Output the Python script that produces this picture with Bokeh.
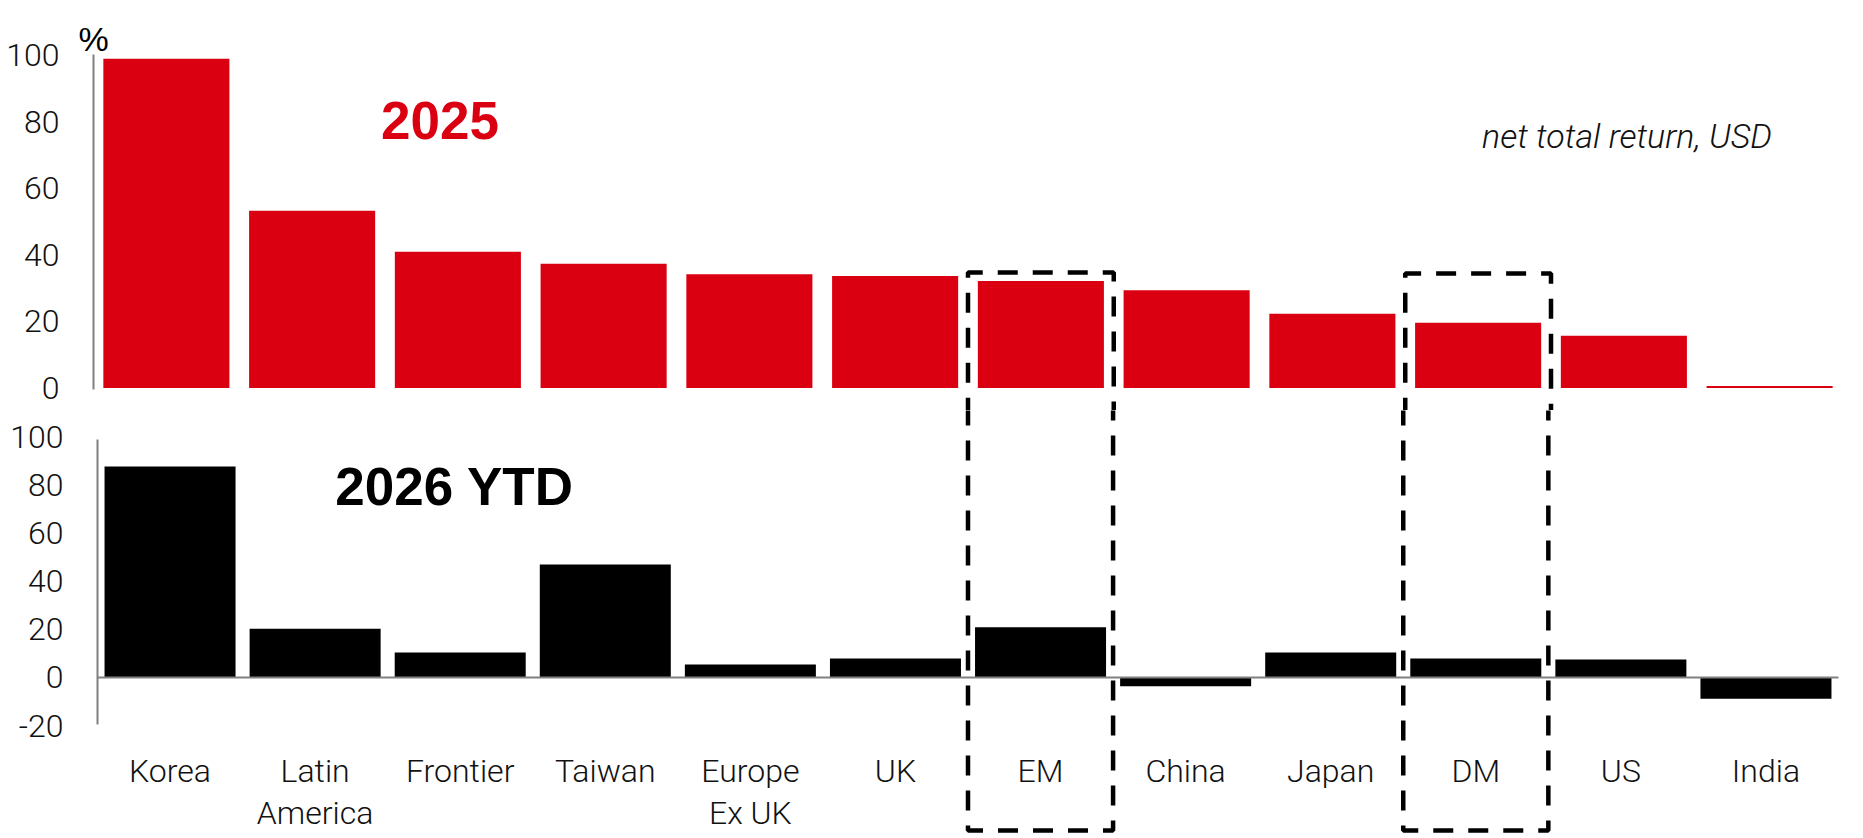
from bokeh.plotting import figure
from bokeh.models import FactorRange, Range1d, FixedTicker, Label
from bokeh.layouts import column
from bokeh.embed import file_html
from bokeh.resources import INLINE
from bokeh.core.properties import value

# ---------------- data ----------------
categories = ["Korea", "Latin America", "Frontier", "Taiwan", "Europe Ex UK", "UK",
              "EM", "China", "Japan", "DM", "US", "India"]
category_labels = ["Korea", "Latin\nAmerica", "Frontier", "Taiwan", "Europe\nEx UK", "UK",
                   "EM", "China", "Japan", "DM", "US", "India"]
returns_2025 = [99.0, 53.3, 41.0, 37.4, 34.2, 33.7, 32.2, 29.4, 22.3, 19.6, 15.7, 0.6]
returns_2026_ytd = [87.6, 20.2, 10.4, 46.9, 5.4, 7.9, 20.9, -3.6, 10.4, 7.9, 7.5, -8.8]
ticks_2025 = [0, 20, 40, 60, 80, 100]
ticks_2026 = [-20, 0, 20, 40, 60, 80, 100]
highlighted = ["EM", "DM"]

# ---------------- styles ----------------
RED = "#DB0011"
BLACK = "#000000"
GREY = "#808080"
TEXT = "#111111"
TICK_FONT = "Roboto Light, Roboto"
LABEL_FONT = "Roboto Light, Roboto"
BOLD_FONT = "Liberation Sans"
DASH = "20 15"

# both panels share the same frame (column layouts align frames);
# the category band inside it is set with the range padding
FRAME_LEFT = 75
FIG_WIDTH = 1860


def style_axis(ax, ticks, standoff):
    ax.ticker = FixedTicker(ticks=ticks)
    ax.axis_line_color = None
    ax.major_tick_line_color = None
    ax.minor_tick_line_color = None
    ax.major_tick_in = 0
    ax.major_tick_out = 0
    ax.minor_tick_in = 0
    ax.minor_tick_out = 0
    ax.major_label_standoff = standoff
    ax.major_label_text_font = TICK_FONT
    ax.major_label_text_font_size = "32px"
    ax.major_label_text_color = TEXT
    ax.major_label_overrides = {t: str(t) for t in ticks}


def base_figure(height, pad, y_range):
    p = figure(width=FIG_WIDTH, height=height,
               x_range=FactorRange(factors=categories, range_padding=pad,
                                   range_padding_units="absolute"),
               y_range=y_range,
               x_axis_location=None, y_axis_location="left",
               output_backend="svg", toolbar_location=None,
               min_border_left=FRAME_LEFT, min_border_right=0,
               min_border_top=0, min_border_bottom=0)
    p.outline_line_color = None
    p.grid.visible = False
    p.background_fill_color = "white"
    return p


# ---------------- top panel: 2025 ----------------
p1 = base_figure(410, 18 / 145.75, Range1d(-6.767, 116.54))
style_axis(p1.yaxis[0], ticks_2025, 16)

# axis line at the start of the first category
p1.segment(x0=[0], y0=[-0.45], x1=[0], y1=[100.3], line_color=GREY, line_width=2)

p1.vbar(x=categories, top=returns_2025, bottom=0, width=0.865,
        fill_color=RED, line_color=None)

p1.add_layout(Label(x=0, y=105.1, text="%", text_align="center", text_baseline="middle",
                    text_font=BOLD_FONT, text_font_size="34px", text_color=BLACK))
p1.add_layout(Label(x=2.377, y=80.6, text="2025", text_align="center", text_baseline="middle",
                    text_font=BOLD_FONT, text_font_style="bold", text_font_size="53px",
                    text_color=RED))
p1.add_layout(Label(x=10.521, y=75.9, text="net total return, USD", text_align="center",
                    text_baseline="middle", text_font=LABEL_FONT, text_font_style="italic",
                    text_font_size="34px", text_color=TEXT))

# upper part of the highlight boxes
box_top = {"EM": 34.74, "DM": 34.4}
for name in highlighted:
    i = categories.index(name)
    p1.line(x=[i, i, i + 1, i + 1], y=[-30, box_top[name], box_top[name], -30],
            line_color=BLACK, line_width=4.5, line_dash=DASH)

# ---------------- bottom panel: 2026 YTD ----------------
p2 = base_figure(426, 22 / 145.08, Range1d(-65.98, 110.79))
style_axis(p2.yaxis[0], ticks_2026, 12)

n = len(categories)
p2.segment(x0=[0], y0=[-19.5], x1=[0], y1=[98.8], line_color=GREY, line_width=2)

p2.vbar(x=categories, top=returns_2026_ytd, bottom=0, width=0.903,
        fill_color=BLACK, line_color=None)
# zero line across the category band
p2.segment(x0=[0], y0=[0], x1=[n], y1=[0], line_color=GREY, line_width=2)

p2.add_layout(Label(x=2.461, y=79.05, text="2026 YTD", text_align="center", text_baseline="middle",
                    text_font=BOLD_FONT, text_font_style="bold", text_font_size="53px",
                    text_color=BLACK))

# category labels (two lines where needed)
first_line = [s.split("\n")[0] for s in category_labels]
second_line = [s.split("\n")[1] if "\n" in s else "" for s in category_labels]
p2.text(x=categories, y=[-39.0] * n, text=first_line, text_align="center",
        text_baseline="middle", text_font=value(LABEL_FONT), text_font_size="32px",
        text_color=TEXT)
p2.text(x=categories, y=[-56.4] * n, text=second_line, text_align="center",
        text_baseline="middle", text_font=value(LABEL_FONT), text_font_size="32px",
        text_color=TEXT)

# lower part of the highlight boxes
box_bottom = -63.49
for name in highlighted:
    i = categories.index(name)
    p2.line(x=[i, i, i + 1, i + 1], y=[200, box_bottom, box_bottom, 200],
            line_color=BLACK, line_width=4.5, line_dash=DASH)

layout = column(p1, p2, spacing=0)
open("out.html", "w").write(file_html(layout, INLINE))
